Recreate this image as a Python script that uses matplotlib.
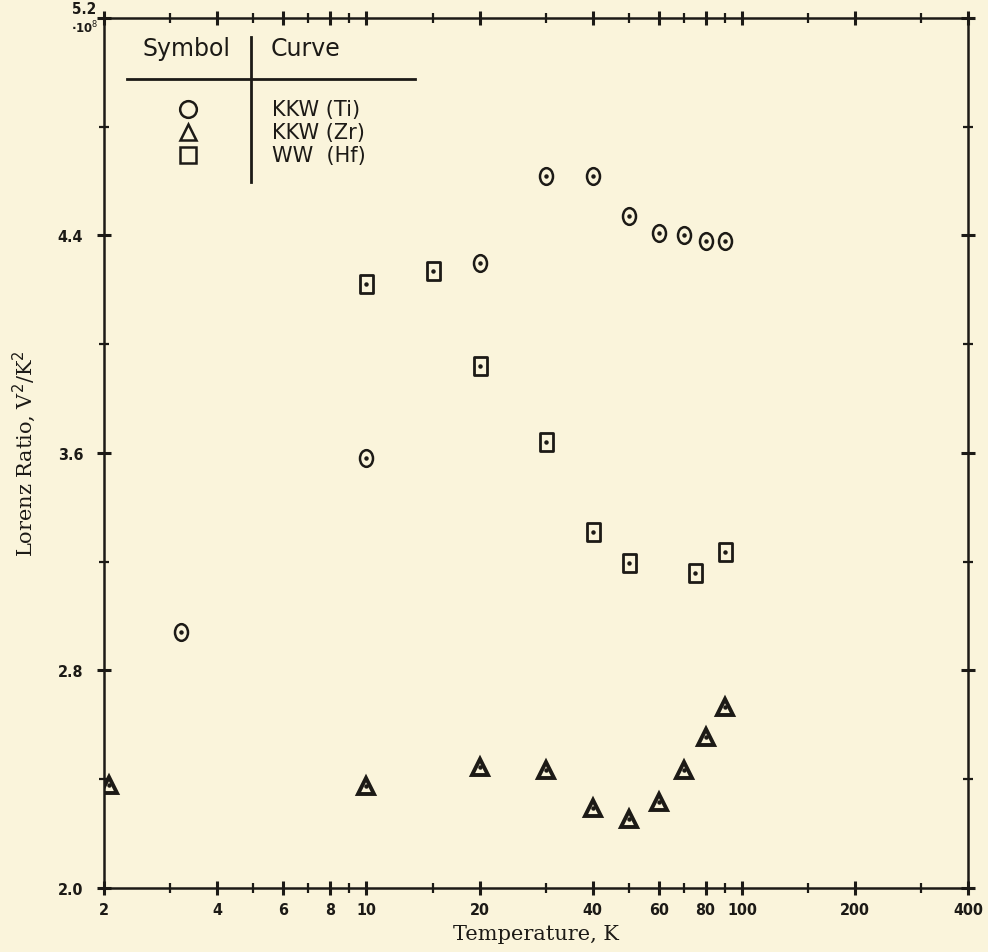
import numpy as np
import matplotlib
matplotlib.use('Agg')
import matplotlib.pyplot as plt
from matplotlib.path import Path
from matplotlib.transforms import Affine2D
from matplotlib.ticker import FixedLocator, NullFormatter

# Lorenz ratio data (x: temperature K, y: L in 1e-8 V^2/K^2)
ti_T = [3.2, 10, 20, 30, 40, 50, 60, 70, 80, 90]
ti_L = [2.94, 3.58, 4.30, 4.62, 4.62, 4.47, 4.41, 4.40, 4.38, 4.38]

zr_T = [2.06, 10, 20, 30, 40, 50, 60, 70, 80, 90]
zr_L = [2.38, 2.375, 2.445, 2.435, 2.295, 2.255, 2.315, 2.435, 2.555, 2.665]

hf_T = [10, 15, 20, 30, 40, 50, 75, 90]
hf_L = [4.22, 4.27, 3.92, 3.64, 3.31, 3.195, 3.16, 3.235]

x_major = [2, 4, 6, 8, 10, 20, 40, 60, 80, 100, 200, 400]
x_minor = [3, 5, 7, 9, 15, 30, 50, 70, 90, 150, 300]
y_major = [2.0, 2.8, 3.6, 4.4, 5.2]
y_minor = [2.4, 3.2, 4.0, 4.8]
y_labels = ['2.0', '2.8', '3.6', '4.4', '']

legend_syms = ['o', '^', 's']
legend_names = ['KKW (Ti)', 'KKW (Zr)', 'WW  (Hf)']

bg = '#faf4db'
ink = '#1c1a16'

# slightly tall ellipse / rectangle like the scanned plotter symbols
ellipse = Path.unit_circle().transformed(Affine2D().scale(0.78, 1.0))
tall_box = Path([(-0.36, -0.5), (0.36, -0.5), (0.36, 0.5), (-0.36, 0.5), (-0.36, -0.5)],
                [Path.MOVETO, Path.LINETO, Path.LINETO, Path.LINETO, Path.CLOSEPOLY])

fig = plt.figure(figsize=(9.88, 9.53), dpi=100, facecolor=bg)
ax = fig.add_axes([0.1053, 0.0672, 0.8745, 0.9129])
ax.set_facecolor(bg)

ax.set_xscale('log')
ax.set_xlim(2, 400)
ax.set_ylim(2.0, 5.2)

ax.plot(ti_T, ti_L, ls='none', marker=ellipse, ms=12, mfc='none', mec=ink, mew=1.8)
ax.plot(hf_T, hf_L, ls='none', marker=tall_box, ms=13, mfc='none', mec=ink, mew=2.0)
ax.plot(zr_T, zr_L, ls='none', marker='^', ms=11, mfc='none', mec=ink, mew=2.8)
for T, L in [(ti_T, ti_L), (hf_T, hf_L), (zr_T, zr_L)]:
    ax.plot(T, L, ls='none', marker='o', ms=2.2, color=ink)

# ticks on all four sides, crossing the frame
ax.xaxis.set_major_locator(FixedLocator(x_major))
ax.xaxis.set_minor_locator(FixedLocator(x_minor))
ax.xaxis.set_minor_formatter(NullFormatter())
ax.set_xticklabels([str(v) for v in x_major])
ax.set_yticks(y_major)
ax.set_yticks(y_minor, minor=True)
ax.set_yticklabels(y_labels)

ax.tick_params(which='both', direction='inout', top=True, right=True, colors=ink)
ax.tick_params(which='major', length=10, width=2.2)
ax.tick_params(which='minor', length=7, width=1.6)
ax.tick_params(axis='x', which='major', pad=5)
ax.tick_params(axis='y', which='major', pad=10)
for lab in ax.get_xticklabels() + ax.get_yticklabels():
    lab.set_fontfamily('DejaVu Sans')
    lab.set_fontweight('bold')
    lab.set_fontstretch('condensed')
    lab.set_fontsize(11.5)

for sp in ax.spines.values():
    sp.set_linewidth(1.8)
    sp.set_color(ink)

ax.text(-0.009, 1.002, '5.2', transform=ax.transAxes, ha='right', va='bottom',
        fontsize=11, fontweight='bold', fontstretch='condensed', color=ink)
ax.text(-0.006, 0.999, '·10$^{8}$', transform=ax.transAxes, ha='right', va='top',
        fontsize=8.5, fontweight='bold', color=ink)

ax.set_xlabel('Temperature, K', fontfamily='DejaVu Serif', fontsize=15,
              color=ink, labelpad=5)
ax.set_ylabel('Lorenz Ratio, V$^2$/K$^2$', fontfamily='DejaVu Serif', fontsize=15,
              color=ink, labelpad=14)

# symbol/curve table in the upper left corner
ax.text(0.096, 0.965, 'Symbol', transform=ax.transAxes, ha='center', va='center',
        fontsize=17, color=ink)
ax.text(0.233, 0.965, 'Curve', transform=ax.transAxes, ha='center', va='center',
        fontsize=17, color=ink)
ax.plot([0.027, 0.360], [0.930, 0.930], transform=ax.transAxes, color=ink, lw=2)
ax.plot([0.170, 0.170], [0.978, 0.811], transform=ax.transAxes, color=ink, lw=2)
for i, (sym, name) in enumerate(zip(legend_syms, legend_names)):
    yy = 0.895 - i * 0.026
    ax.plot([0.097], [yy], transform=ax.transAxes, ls='none', marker=sym, ms=12,
            mfc='none', mec=ink, mew=1.8, clip_on=False)
    ax.text(0.194, yy, name, transform=ax.transAxes, ha='left', va='center',
            fontsize=15, color=ink)

fig.savefig('out.png', dpi=100, facecolor=bg)
